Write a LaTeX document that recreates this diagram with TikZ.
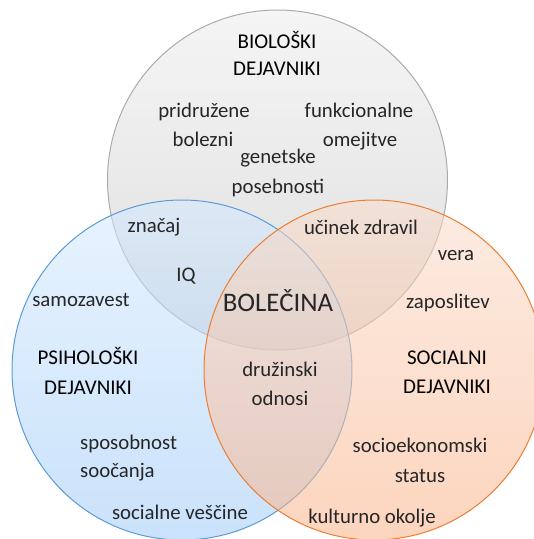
\documentclass[tikz,border=0pt]{standalone}
\usepackage{fontspec}
\setmainfont{Carlito}
\definecolor{txt}{HTML}{262626}
\definecolor{grayTop}{RGB}{236,236,236}
\definecolor{grayBot}{RGB}{196,196,196}
\definecolor{grayLine}{HTML}{ABABAB}
\definecolor{blueTop}{RGB}{212,233,255}
\definecolor{blueBot}{RGB}{158,202,247}
\definecolor{blueLine}{HTML}{5B9BD5}
\definecolor{orTop}{RGB}{250,220,203}
\definecolor{orBot}{RGB}{250,178,136}
\definecolor{orLine}{HTML}{ED7D31}
\begin{document}
\begin{tikzpicture}[x=1pt,y=-1pt,
  setc/.style={circle, inner sep=0pt, minimum size=340pt, fill opacity=0.55, draw opacity=1, line width=1pt},
  body/.style={anchor=base, text=txt, font=\fontsize{20.8}{24}\selectfont, inner sep=0pt},
  head/.style={anchor=base, text=black, font=\fontsize{21}{24}\selectfont, inner sep=0pt},
  big/.style={anchor=base, text=txt, font=\fontsize{26.8}{30}\selectfont, inner sep=0pt}]
\useasboundingbox (0,0) rectangle (534,539);
\node[setc, draw=grayLine, top color=grayTop, bottom color=grayBot] (bio) at (277.5,180) {};
\node[setc, draw=blueLine, top color=blueTop, bottom color=blueBot] (psy) at (182,370) {};
\node[setc, draw=orLine, top color=orTop, bottom color=orBot] (soc) at (374,370) {};
% biological
\node[head] (bh1) at (277,48) {BIOLOŠKI};
\node[head] (bh2) at (277,75) {DEJAVNIKI};
\node[body] (b1) at (204,117) {pridružene};
\node[body] (b2) at (203,146) {bolezni};
\node[body] (b3) at (359,117) {funkcionalne};
\node[body] (b4) at (360,146) {omejitve};
\node[body] (b5) at (278,163) {genetske};
\node[body] (b6) at (278,193) {posebnosti};
% overlaps
\node[body] (o1) at (154,232) {značaj};
\node[body] (o2) at (186,281) {IQ};
\node[body] (o3) at (361,234) {učinek zdravil};
\node[body] (o4) at (280,376) {družinski};
\node[body] (o5) at (280,405) {odnosi};
\node[big] (center) at (278,311) {BOLEČINA};
% psychological
\node[body] (p1) at (81,306) {samozavest};
\node[head] (ph1) at (88,364) {PSIHOLOŠKI};
\node[head] (ph2) at (88,394) {DEJAVNIKI};
\node[body, anchor=base west] (p2) at (80,449) {sposobnost};
\node[body, anchor=base west] (p3) at (80,477) {soočanja};
\node[body] (p4) at (180,519) {socialne veščine};
% social
\node[body] (s1) at (456,260) {vera};
\node[body] (s2) at (448,308) {zaposlitev};
\node[head] (sh1) at (447,364) {SOCIALNI};
\node[head] (sh2) at (447,393) {DEJAVNIKI};
\node[body] (s3) at (420,452) {socioekonomski};
\node[body] (s4) at (420,482) {status};
\node[body] (s5) at (372,523) {kulturno okolje};
\end{tikzpicture}
\end{document}
